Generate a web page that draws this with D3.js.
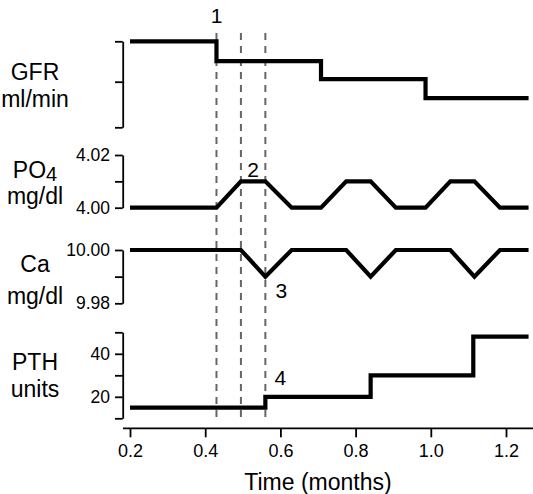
<!DOCTYPE html>
<html>
<head>
<meta charset="utf-8">
<script src="https://cdn.jsdelivr.net/npm/d3@7"></script>
<style>
  html, body { margin: 0; padding: 0; background: #fff; }
  svg { display: block; font-family: "Liberation Sans", Arial, sans-serif; }
</style>
</head>
<body>
<svg id="chart" width="533" height="494"></svg>
<script>
// ---------- data ----------
const xTicks = [0.2, 0.4, 0.6, 0.8, 1.0, 1.2];
const eventTimes = [0.43, 0.495, 0.56];

const gfrTimes  = [0.2, 0.43, 0.708, 0.986, 1.26];
const gfrValues = [100, 77, 56, 34, 34];
const gfrTicks  = [0, 53, 100];

const po4Times  = [0.2, 0.43, 0.495, 0.56, 0.63, 0.708, 0.775, 0.84, 0.907, 0.986, 1.052, 1.116, 1.184, 1.26];
const po4Values = [4.00, 4.00, 4.01, 4.01, 4.00, 4.00, 4.01, 4.01, 4.00, 4.00, 4.01, 4.01, 4.00, 4.00];
const po4Ticks  = [4.00, 4.01, 4.02];
const po4TickLabels = ["4.00", "", "4.02"];

const caTimes  = [0.2, 0.495, 0.56, 0.63, 0.775, 0.84, 0.907, 1.052, 1.116, 1.184, 1.26];
const caValues = [10.00, 10.00, 9.99, 10.00, 10.00, 9.99, 10.00, 10.00, 9.99, 10.00, 10.00];
const caTicks  = [9.98, 9.99, 10.00];
const caTickLabels = ["9.98", "", "10.00"];

const pthTimes  = [0.2, 0.56, 0.84, 1.113, 1.26];
const pthValues = [15, 20, 30, 48, 48];
const pthTicks  = [10, 20, 30, 40, 50];
const pthTickLabels = ["", "20", "", "40", ""];

// ---------- layout ----------
const svg = d3.select("#chart");
svg.append("rect").attr("width", 533).attr("height", 494).attr("fill", "#fff");

const x = d3.scaleLinear().domain([0.2, 1.2]).range([130, 506]);
const axisX = 122.7;

const yGFR = d3.scaleLinear().domain([0, 100]).range([127.3, 41.3]);
const yPO4 = d3.scaleLinear().domain([4.00, 4.02]).range([207.7, 155]);
const yCa  = d3.scaleLinear().domain([9.98, 10.00]).range([303.3, 250]);
const yPTH = d3.scaleLinear().domain([10, 50]).range([418.3, 332.3]);

// ---------- dashed event lines ----------
svg.append("g").selectAll("line").data(eventTimes).join("line")
  .attr("x1", d => x(d)).attr("x2", d => x(d))
  .attr("y1", 33).attr("y2", 421)
  .attr("stroke", "#666").attr("stroke-width", 2)
  .attr("stroke-dasharray", "7,6");

// ---------- y axes ----------
function yAxis(scale, ticks, labels) {
  const ax = d3.axisLeft(scale).tickValues(ticks).tickSize(7.7).tickSizeOuter(0).tickPadding(5)
    .tickFormat((d, i) => labels ? labels[i] : "");
  const g = svg.append("g").attr("transform", `translate(${axisX},0)`).call(ax);
  g.attr("font-size", 17.5).attr("font-family", null);
  g.select(".domain").attr("stroke", "#000").attr("stroke-width", 1.8);
  g.selectAll(".tick line").attr("stroke", "#000").attr("stroke-width", 1.8);
  g.selectAll(".tick text").attr("fill", "#000");
  return g;
}
yAxis(yGFR, gfrTicks, null);
yAxis(yPO4, po4Ticks, po4TickLabels);
yAxis(yCa, caTicks, caTickLabels);
yAxis(yPTH, pthTicks, pthTickLabels);

// ---------- x axis ----------
const xAxisY = 428.3;
const xg = svg.append("g").attr("transform", `translate(0,${xAxisY})`)
  .call(d3.axisBottom(x).tickValues(xTicks).tickSize(9).tickPadding(7).tickFormat(d3.format(".1f")));
xg.attr("font-size", 18).attr("font-family", null);
xg.select(".domain").remove();
xg.append("line").attr("x1", 123).attr("x2", 533).attr("y1", 0).attr("y2", 0)
  .attr("stroke", "#000").attr("stroke-width", 1.8);
xg.selectAll(".tick line").attr("stroke", "#000").attr("stroke-width", 1.8);
xg.selectAll(".tick text").attr("fill", "#000");

svg.append("text").attr("x", 318).attr("y", 490).attr("text-anchor", "middle")
  .attr("font-size", 23).text("Time (months)");

// ---------- series ----------
function series(times, values, yScale, curve) {
  const pts = times.map((t, i) => [t, values[i]]);
  const line = d3.line().x(d => x(d[0])).y(d => yScale(d[1])).curve(curve);
  svg.append("path").attr("d", line(pts)).attr("fill", "none")
    .attr("stroke", "#000").attr("stroke-width", 4.2)
    .attr("stroke-linejoin", "miter").attr("stroke-linecap", "butt");
}
series(gfrTimes, gfrValues, yGFR, d3.curveStepAfter);
series(po4Times, po4Values, yPO4, d3.curveLinear);
series(caTimes, caValues, yCa, d3.curveLinear);
series(pthTimes, pthValues, yPTH, d3.curveStepAfter);

// ---------- panel labels ----------
const labelX = 35;
function label(lines) {
  lines.forEach(([txt, y, sub]) => {
    const t = svg.append("text").attr("x", labelX).attr("y", y)
      .attr("text-anchor", "middle").attr("font-size", 23).attr("fill", "#000");
    t.append("tspan").text(txt);
    if (sub) t.append("tspan").attr("font-size", 20).attr("dy", 3).text(sub);
  });
}
label([["GFR", 80], ["ml/min", 107]]);
label([["PO", 178, "4"], ["mg/dl", 204]]);
label([["Ca", 272], ["mg/dl", 304]]);
label([["PTH", 370], ["units", 397]]);

// ---------- event numbers ----------
const evG = svg.append("g").attr("font-size", 21).attr("text-anchor", "middle").attr("fill", "#000");
evG.append("text").attr("x", x(eventTimes[0])).attr("y", 23).text("1");
evG.append("text").attr("x", x((eventTimes[1] + eventTimes[2]) / 2)).attr("y", yPO4(4.01) - 4).text("2");
evG.append("text").attr("x", x(eventTimes[2]) + 16).attr("y", yCa(9.99) + 21).text("3");
evG.append("text").attr("x", x(eventTimes[2]) + 15).attr("y", yPTH(20) - 12).text("4");
</script>
</body>
</html>
